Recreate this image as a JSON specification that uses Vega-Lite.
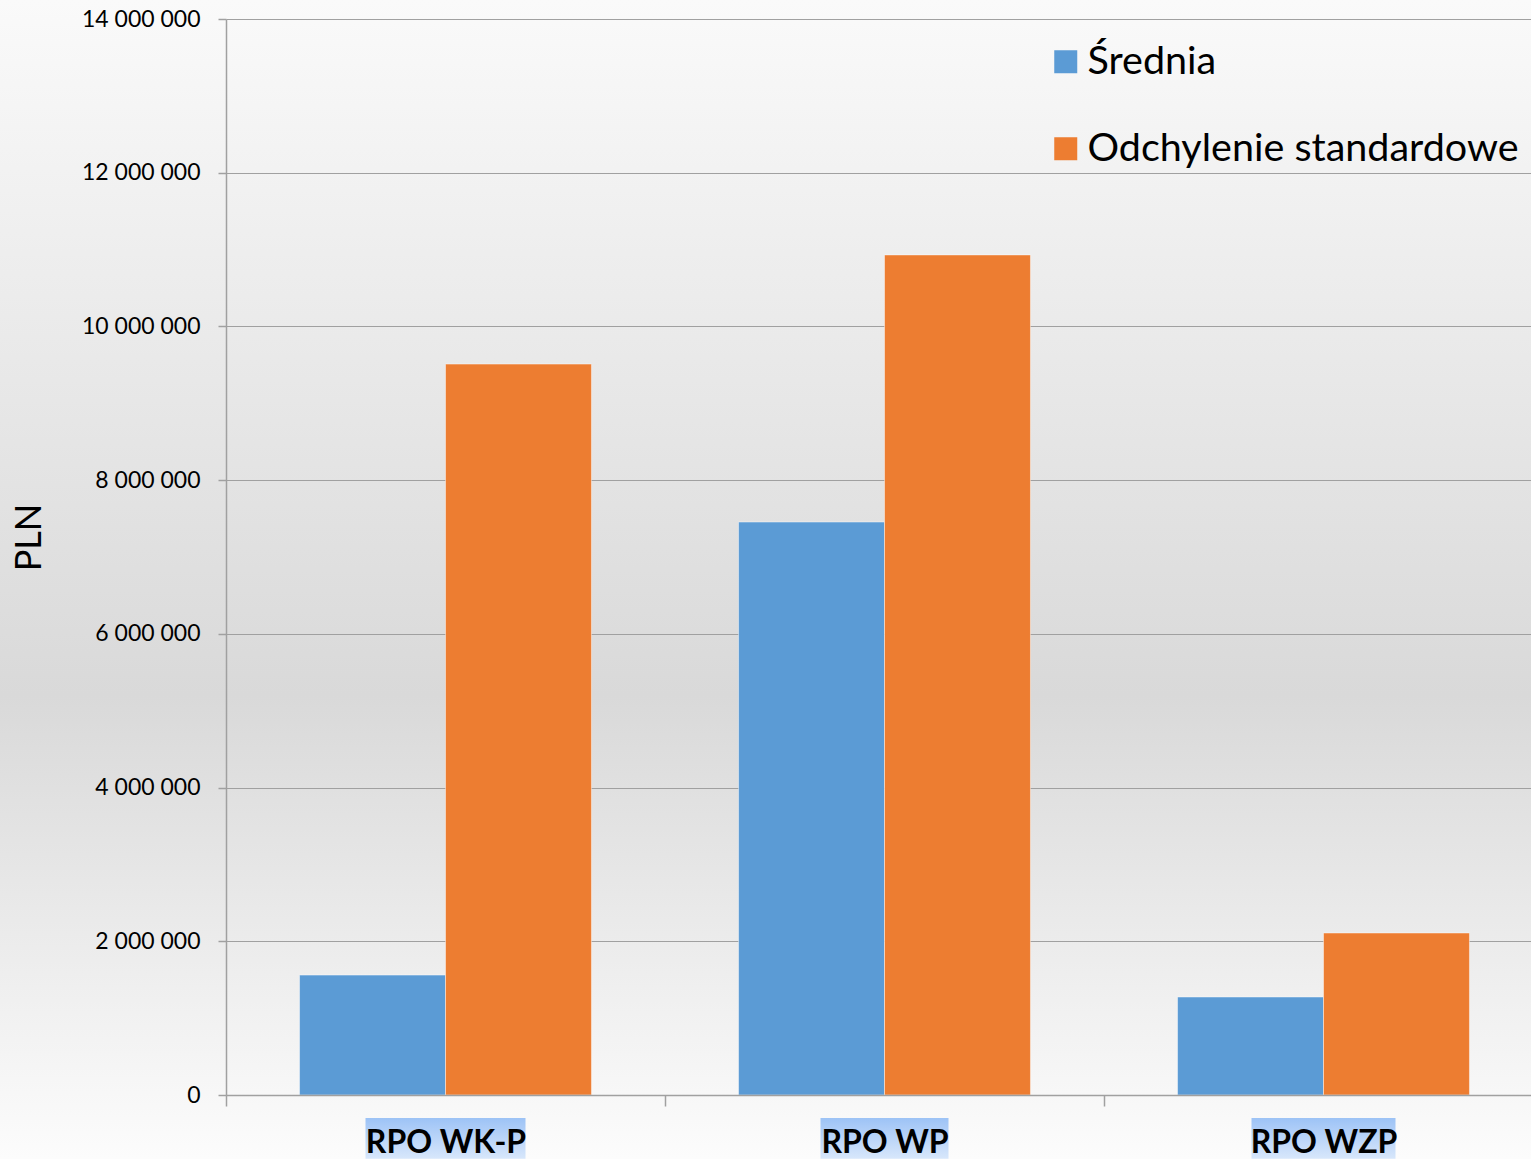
{
  "$schema": "https://vega.github.io/schema/vega-lite/v6.json",
  "width": 1531,
  "height": 1159,
  "padding": 0,
  "autosize": {"type": "none"},
  "background": "#f0f0f0",
  "config": {
    "font": "Lato",
    "view": {
      "stroke": null,
      "fill": {
        "gradient": "linear",
        "x1": 0, "y1": 0, "x2": 0, "y2": 1,
        "stops": [
          {"offset": 0, "color": "#fafafa"},
          {"offset": 0.6, "color": "#d9d9d9"},
          {"offset": 1, "color": "#fcfcfc"}
        ]
      }
    }
  },
  "layer": [
    {
      "data": {
        "values": [
          {"program": "RPO WK-P", "series": "Średnia", "value": 1560000},
          {"program": "RPO WK-P", "series": "Odchylenie standardowe", "value": 9510000},
          {"program": "RPO WP", "series": "Średnia", "value": 7455000},
          {"program": "RPO WP", "series": "Odchylenie standardowe", "value": 10930000},
          {"program": "RPO WZP", "series": "Średnia", "value": 1275000},
          {"program": "RPO WZP", "series": "Odchylenie standardowe", "value": 2108000}
        ]
      },
      "mark": {"type": "bar", "stroke": "#ffffff", "strokeOpacity": 0.45, "strokeWidth": 1},
      "encoding": {
        "x": {
          "field": "program",
          "type": "nominal",
          "sort": null,
          "scale": {"range": [226, 1543], "paddingInner": 0.335, "paddingOuter": 0.1675},
          "axis": {
            "title": null,
            "labelFontSize": 32,
            "labelFontWeight": "bold",
            "labelColor": "#000000",
            "labelAngle": 0,
            "labelPadding": 21,
            "labelOffset": 219.5,
            "tickOffset": -219.5,
            "tickSize": 11,
            "tickWidth": 1.5,
            "tickColor": "#a0a0a0",
            "domainColor": "#a0a0a0",
            "domainWidth": 1.5,
            "grid": false,
            "offset": -64,
            "zindex": 1
          }
        },
        "xOffset": {"field": "series", "type": "nominal", "sort": ["Średnia", "Odchylenie standardowe"]},
        "y": {
          "field": "value",
          "type": "quantitative",
          "scale": {"domain": [0, 14000000], "range": [1095, 19], "nice": false},
          "axis": {
            "title": "PLN",
            "values": [0, 2000000, 4000000, 6000000, 8000000, 10000000, 12000000, 14000000],
            "labelExpr": "replace(format(datum.value, ','), /,/g, ' ')",
            "labelFontSize": 23,
            "labelColor": "#000000",
            "labelPadding": 18,
            "tickSize": 8,
            "tickWidth": 1.5,
            "tickColor": "#a0a0a0",
            "domainColor": "#a0a0a0",
            "domainWidth": 1.5,
            "grid": true,
            "gridColor": "#a0a0a0",
            "gridWidth": 1.2,
            "titleFontSize": 36,
            "titleFontWeight": "normal",
            "titleColor": "#000000",
            "titlePadding": 33,
            "titleY": 537,
            "offset": -226
          }
        },
        "color": {
          "field": "series",
          "type": "nominal",
          "sort": ["Średnia", "Odchylenie standardowe"],
          "scale": {"domain": ["Średnia", "Odchylenie standardowe"], "range": ["#5b9bd5", "#ed7d31"]},
          "legend": {
            "orient": "none",
            "legendX": 1046,
            "legendY": 42,
            "title": null,
            "symbolType": "square",
            "symbolSize": 529,
            "symbolStrokeWidth": 0,
            "labelFontSize": 39.5,
            "labelLimit": 0,
            "labelColor": "#000000",
            "labelOffset": 2,
            "rowPadding": 46,
            "padding": 0
          }
        }
      }
    },
    {
      "data": {
        "values": [
          {"program": "RPO WK-P"},
          {"program": "RPO WP"},
          {"program": "RPO WZP"}
        ]
      },
      "mark": {
        "type": "bar",
        "width": {"expr": "16*length(datum.program)+32"},
        "fill": {
          "gradient": "linear",
          "x1": 0, "y1": 0, "x2": 0, "y2": 1,
          "stops": [
            {"offset": 0, "color": "#9dc3f6"},
            {"offset": 1, "color": "#d8e7fb"}
          ]
        }
      },
      "encoding": {
        "x": {"field": "program", "type": "nominal", "sort": null},
        "y": {"datum": -300000, "type": "quantitative", "title": "PLN"},
        "y2": {"datum": -830000}
      }
    }
  ]
}
